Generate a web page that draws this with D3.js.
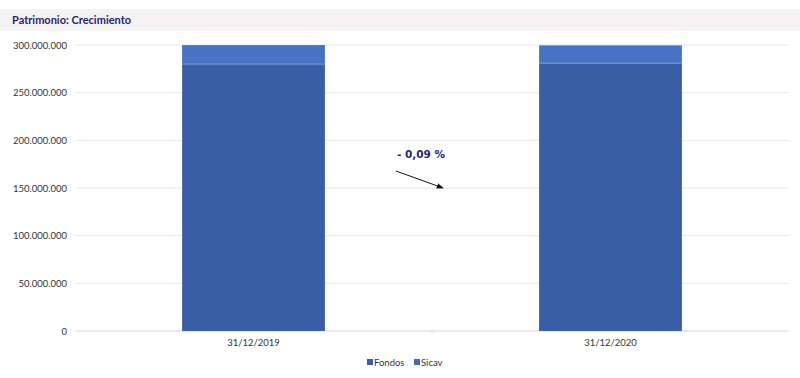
<!DOCTYPE html>
<html><head><meta charset="utf-8">
<script src="https://cdn.jsdelivr.net/npm/d3@7/dist/d3.min.js"></script>
<style>body{margin:0;background:#fff;font-family:Lato,"Open Sans",sans-serif;}</style>
</head><body><svg id="c" width="800" height="378"></svg>
<script>
const categories = ["31/12/2019", "31/12/2020"];
const fondos = [280000000, 281000000];
const sicav = [19900000, 18630000];
const seriesNames = ["Fondos", "Sicav"];
const yTicks = [0, 50000000, 100000000, 150000000, 200000000, 250000000, 300000000];
const growthLabel = "- 0,09 %";

const svg = d3.select("#c");
const W = 800, H = 378;
const m = {left: 75, right: 11, top: 45, bottom: 47};
const colors = {Fondos: "#3a5ea5", Sicav: "#4673c5"};

// title band
svg.append("rect").attr("x", 0).attr("y", 9).attr("width", W).attr("height", 22).attr("fill", "#f4f2f3");
svg.append("text").attr("x", 12).attr("y", 24).attr("font-size", 11).attr("font-weight", 700)
  .attr("fill", "#27276e").text("Patrimonio: Crecimiento");

const x = d3.scaleBand().domain(categories).range([m.left, W - m.right]).paddingInner(0).paddingOuter(0);
const y = d3.scaleLinear().domain([0, 300000000]).range([H - m.bottom, m.top]);

const fmt = v => d3.format(",")(v).replace(/,/g, ".");

// grid
svg.append("g").selectAll("line").data(yTicks).join("line")
  .attr("x1", m.left).attr("x2", W - m.right)
  .attr("y1", d => y(d)).attr("y2", d => y(d))
  .attr("stroke", d => d === 0 ? "#d5d5dc" : "#e6e6ea").attr("stroke-width", 1);

svg.append("g").selectAll("text").data(yTicks).join("text")
  .attr("x", 67).attr("y", d => y(d) + 3.5).attr("text-anchor", "end")
  .attr("font-size", 9.5).attr("fill", "#333").text(d => fmt(d));

// small tick between categories
svg.append("line").attr("x1", x(categories[1])).attr("x2", x(categories[1]))
  .attr("y1", y(0)).attr("y2", y(0) + 3).attr("stroke", "#e0e0e4");

const rows = categories.map((c, i) => ({cat: c, Fondos: fondos[i], Sicav: sicav[i]}));
const stack = d3.stack().keys(seriesNames)(rows);
const bw = x.bandwidth() * 0.4;

svg.append("g").selectAll("g").data(stack).join("g")
  .attr("fill", d => colors[d.key])
  .selectAll("rect").data(d => d).join("rect")
  .attr("x", d => x(d.data.cat) + (x.bandwidth() - bw) / 2)
  .attr("width", bw)
  .attr("y", d => y(d[1]))
  .attr("height", d => y(d[0]) - y(d[1]));

// separator line between segments
svg.append("g").selectAll("line").data(rows).join("line")
  .attr("x1", d => x(d.cat) + (x.bandwidth() - bw) / 2)
  .attr("x2", d => x(d.cat) + (x.bandwidth() + bw) / 2)
  .attr("y1", d => y(d.Fondos)).attr("y2", d => y(d.Fondos))
  .attr("stroke", "#8ea8d8").attr("stroke-width", 0.8);

// x labels
svg.append("g").selectAll("text").data(categories).join("text")
  .attr("x", d => x(d) + x.bandwidth() / 2).attr("y", 346).attr("text-anchor", "middle")
  .attr("font-size", 9.5).attr("fill", "#333").text(d => d);

// annotation
svg.append("text").attr("x", 421).attr("y", 158).attr("text-anchor", "middle")
  .attr("font-size", 10.5).attr("font-weight", 700).attr("fill", "#27276e")
  .attr("font-family", "'DejaVu Sans', Verdana, sans-serif").text(growthLabel);
svg.append("defs").append("marker").attr("id", "ah").attr("viewBox", "0 0 10 10")
  .attr("refX", 9).attr("refY", 5).attr("markerWidth", 7).attr("markerHeight", 7)
  .attr("orient", "auto").append("path").attr("d", "M0,1L10,5L0,9Z").attr("fill", "#111");
svg.append("line").attr("x1", 396).attr("y1", 171).attr("x2", 443).attr("y2", 188)
  .attr("stroke", "#111").attr("stroke-width", 1).attr("marker-end", "url(#ah)");

// legend
const lg = svg.append("g");
const items = [{n: "Fondos", x: 367}, {n: "Sicav", x: 414}];
lg.selectAll("rect").data(items).join("rect")
  .attr("x", d => d.x).attr("y", 359).attr("width", 6).attr("height", 6)
  .attr("fill", d => d.n === "Fondos" ? colors.Fondos : "#4a6aae");
lg.selectAll("text").data(items).join("text")
  .attr("x", d => d.x + 7).attr("y", 365.5).attr("font-size", 9.5).attr("fill", "#333").text(d => d.n);
</script></body></html>
